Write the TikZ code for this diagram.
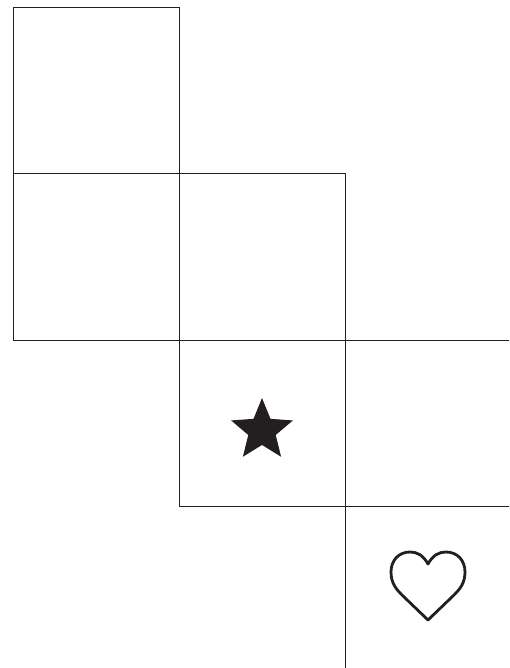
\documentclass[tikz,border=0pt]{standalone}
\usepackage{tikz}
\usetikzlibrary{shapes.geometric}
\definecolor{ink}{RGB}{35,31,32}

\begin{document}
\begin{tikzpicture}[x=1pt,y=-1pt]
\useasboundingbox (0,0) rectangle (509,668);
\tikzset{gridline/.style={ink, line width=1pt}}

% Top square
\draw[gridline] (13,174) -- (13,8) -- (179,8) -- (179,506);

% Second row
\draw[gridline] (13,174) -- (345,174) -- (345,668);
\draw[gridline] (13,174) -- (13,340) -- (509,340);

% Third row
\draw[gridline] (179,506) -- (509,506);

% Star
\node[star, star points=5, star point ratio=2.25, fill=ink, inner sep=0pt,
      minimum size=65pt] (starmark) at (262,430.5) {};

% Heart
\draw[ink, line width=2.8pt, line join=round]
  (428,564) .. controls (423,555) and (417,552) .. (410,552)
  .. controls (399,552) and (391,560) .. (391,572)
  .. controls (391,583) and (396,589) .. (402,595)
  -- (428,620) -- (454,595)
  .. controls (460,589) and (465,583) .. (465,572)
  .. controls (465,560) and (457,552) .. (446,552)
  .. controls (439,552) and (433,555) .. (428,564) -- cycle;
\end{tikzpicture}
\end{document}
